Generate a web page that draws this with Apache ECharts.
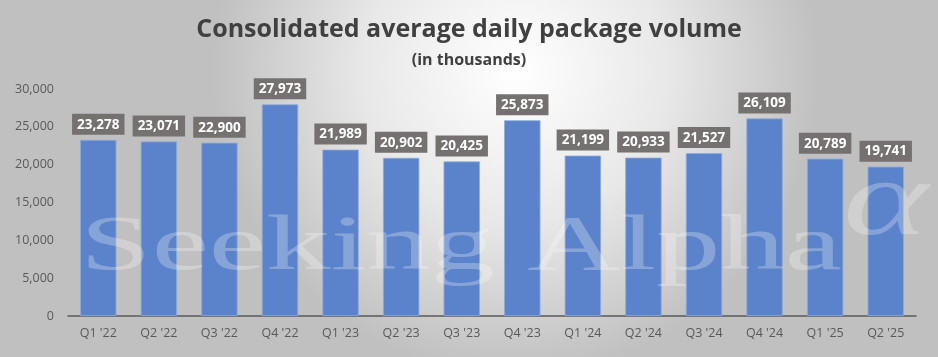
<!DOCTYPE html>
<html><head><meta charset="utf-8">
<script src="https://cdn.jsdelivr.net/npm/echarts@6/dist/echarts.min.js"></script>
<style>html,body{margin:0;padding:0;background:#fff}#c{width:938px;height:357px}</style>
</head><body><div id="c"></div>
<script>
const categories = ["Q1 '22","Q2 '22","Q3 '22","Q4 '22","Q1 '23","Q2 '23","Q3 '23","Q4 '23","Q1 '24","Q2 '24","Q3 '24","Q4 '24","Q1 '25","Q2 '25"];
const volume = [23278,23071,22900,27973,21989,20902,20425,25873,21199,20933,21527,26109,20789,19741];
const yTicks = [0,5000,10000,15000,20000,25000,30000];

const wmFont = '78px "Liberation Serif"';
const cv = document.createElement('canvas').getContext('2d');
cv.font = wmFont;
const wmW = cv.measureText('Seeking Alpha').width;
const wmScale = 762 / wmW;

const chart = echarts.init(document.getElementById('c'), null, {renderer:'canvas'});
chart.setOption({
  animation:false,
  backgroundColor:{type:'radial',x:0.55,y:0.2,r:0.85,colorStops:[{offset:0,color:'#ffffff'},{offset:0.5,color:'#e8e8e8'},{offset:1,color:'#c0c0c0'}]},
  title:[{text:'Consolidated average daily package volume',left:'center',top:12,
    textStyle:{fontFamily:'Open Sans',fontWeight:'bold',fontSize:25,color:'#404040'}},
    {text:'(in thousands)',left:'center',top:47,textStyle:{fontFamily:'Open Sans',fontWeight:'bold',fontSize:16,color:'#404040'}}],
  grid:{left:68,right:22,top:89,bottom:41},
  xAxis:{type:'category',data:categories,
    axisLine:{lineStyle:{color:'#595959',width:1.5}},axisTick:{show:false},
    axisLabel:{color:'#595959',fontFamily:'Open Sans',fontSize:12.5,margin:11}},
  yAxis:{type:'value',min:0,max:30000,interval:5000,
    axisLine:{show:false},axisTick:{show:false},splitLine:{show:false},
    axisLabel:{color:'#595959',fontFamily:'Open Sans',fontSize:12.5,margin:14,
      formatter:v=>yTicks.includes(v)?v.toLocaleString('en-US'):''}},
  series:[{type:'bar',data:volume,barCategoryGap:'40%',
    itemStyle:{color:'#5b83cb',borderColor:'#8fabdc',borderWidth:0.8},
    label:{show:true,position:'top',distance:5,color:'#ffffff',fontFamily:'Open Sans',fontWeight:'bold',fontSize:13.5,
      backgroundColor:'#767171',padding:[4,5,3,5],
      formatter:p=>p.value.toLocaleString('en-US')}}],
  graphic:[{type:'text',x:80,y:210,scaleX:wmScale,z:100,silent:true,
    style:{text:'Seeking Alpha',font:wmFont,verticalAlign:'top',fill:'rgba(255,255,255,0.27)'}},
    {type:'text',x:843,y:152,scaleX:1.5,z:100,silent:true,
    style:{text:'\u03B1',font:'italic 108px "Liberation Serif"',verticalAlign:'top',fill:'rgba(255,255,255,0.26)'}}]
});
</script></body></html>
